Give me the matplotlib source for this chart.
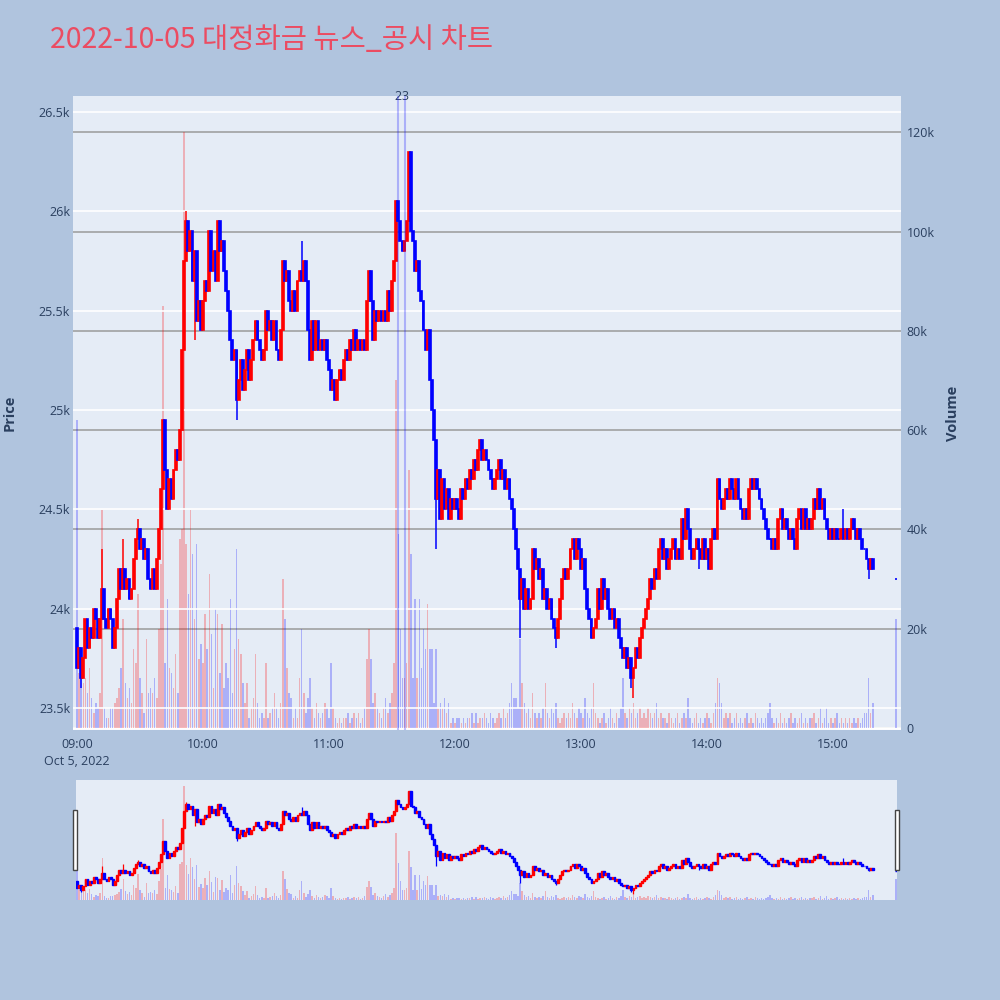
import numpy as np
import matplotlib.pyplot as plt
from matplotlib.patches import Rectangle
from matplotlib.transforms import blended_transform_factory

plt.rcParams['font.family'] = ['Open Sans', 'Noto Sans CJK KR', 'DejaVu Sans']

# --- data (1-minute candles, 09:00 ~ 15:19 + 15:30 closing auction) ---
minutes = list(range(380)) + [390]
first_open = 23900

close = [
    23700, 23800, 23650, 23750, 23950, 23800, 23900, 23850, 24000, 23950,
    23850, 23950, 24100, 23950, 23900, 24000, 23950, 23800, 23900, 24050,
    24200, 24100, 24200, 24100, 24150, 24050, 24100, 24250, 24350, 24400,
    24300, 24350, 24250, 24300, 24150, 24100, 24200, 24100, 24250, 24400,
    24600, 24950, 24700, 24500, 24650, 24550, 24700, 24800, 24750, 24900,
    25300, 25750, 25950, 25800, 25900, 25650, 25800, 25450, 25550, 25400,
    25550, 25650, 25600, 25900, 25700, 25800, 25650, 25950, 25800, 25850,
    25700, 25600, 25500, 25350, 25250, 25300, 25050, 25150, 25250, 25100,
    25200, 25300, 25150, 25250, 25350, 25450, 25350, 25300, 25250, 25300,
    25500, 25400, 25450, 25350, 25450, 25300, 25250, 25400, 25750, 25650,
    25700, 25550, 25500, 25600, 25500, 25650, 25700, 25650, 25750, 25650,
    25400, 25250, 25450, 25300, 25450, 25300, 25350, 25300, 25350, 25250,
    25200, 25100, 25150, 25050, 25150, 25200, 25150, 25250, 25300, 25250,
    25350, 25300, 25400, 25300, 25350, 25300, 25350, 25300, 25550, 25700,
    25550, 25350, 25500, 25450, 25500, 25450, 25500, 25450, 25600, 25500,
    25650, 25750, 26050, 25950, 25850, 25800, 25850, 25950, 26300, 25900,
    25850, 25700, 25750, 25600, 25550, 25400, 25300, 25400, 25150, 25000,
    24850, 24550, 24700, 24450, 24650, 24500, 24600, 24450, 24550, 24500,
    24550, 24500, 24450, 24600, 24550, 24650, 24600, 24700, 24650, 24750,
    24700, 24800, 24850, 24750, 24800, 24750, 24700, 24650, 24600, 24650,
    24700, 24750, 24650, 24700, 24600, 24650, 24550, 24500, 24400, 24300,
    24200, 24050, 24150, 24000, 24100, 24000, 24050, 24300, 24200, 24250,
    24150, 24200, 24050, 24100, 24000, 24050, 23950, 23900, 23850, 23950,
    24050, 24150, 24200, 24150, 24200, 24300, 24350, 24250, 24350, 24300,
    24200, 24250, 24100, 24000, 23950, 23850, 23900, 23950, 24100, 24000,
    24150, 24050, 24100, 24000, 23950, 24000, 23900, 23950, 23850, 23800,
    23750, 23800, 23700, 23750, 23650, 23700, 23800, 23750, 23850, 23900,
    23950, 24000, 24050, 24150, 24100, 24200, 24150, 24300, 24350, 24250,
    24300, 24200, 24250, 24300, 24350, 24250, 24300, 24250, 24450, 24350,
    24500, 24400, 24300, 24250, 24300, 24350, 24300, 24250, 24350, 24250,
    24300, 24200, 24350, 24400, 24350, 24650, 24550, 24500, 24550, 24600,
    24550, 24650, 24600, 24550, 24650, 24550, 24500, 24450, 24500, 24450,
    24600, 24650, 24600, 24650, 24600, 24550, 24500, 24450, 24400, 24350,
    24350, 24300, 24350, 24300, 24450, 24500, 24400, 24450, 24400, 24350,
    24400, 24350, 24300, 24450, 24500, 24400, 24500, 24400, 24450, 24400,
    24450, 24550, 24500, 24600, 24500, 24550, 24450, 24400, 24350, 24400,
    24350, 24400, 24350, 24350, 24400, 24350, 24400, 24350, 24400, 24450,
    24400, 24350, 24400, 24350, 24300, 24300, 24250, 24200, 24250, 24200,
    24150,
]

# wicks that go beyond the bodies (index -> price)
high_spikes = {12: 24300, 22: 24350, 29: 24450, 52: 26000, 107: 25850,
               158: 26300, 353: 24600, 365: 24500}
low_spikes = {2: 23600, 56: 25350, 76: 24950, 171: 24300, 211: 23850,
              228: 23800, 264: 23600, 265: 23550, 296: 24200, 377: 24150}

# volume in thousands of shares
volume_k = [
    62, 11, 10, 9, 10, 7, 12, 6, 3, 5,
    4, 7, 44, 4, 2, 2, 4, 4, 5, 6,
    8, 12, 22, 9, 6, 8, 5, 16, 13, 27,
    10, 7, 3, 18, 7, 8, 7, 10, 6, 20,
    33, 85, 13, 26, 12, 11, 8, 15, 7, 38,
    40, 120, 37, 27, 44, 35, 22, 37, 14, 17,
    13, 23, 16, 31, 19, 8, 24, 23, 11, 21,
    8, 13, 10, 26, 7, 16, 36, 18, 15, 9,
    5, 9, 2, 4, 6, 15, 5, 2, 3, 2,
    13, 2, 3, 4, 7, 4, 2, 5, 30, 22,
    12, 7, 6, 2, 4, 2, 10, 20, 7, 3,
    6, 10, 4, 2, 5, 3, 2, 3, 5, 4,
    2, 13, 4, 2, 1, 2, 1, 2, 2, 3,
    1, 2, 3, 2, 3, 1, 2, 4, 14, 20,
    14, 5, 7, 4, 3, 2, 4, 6, 3, 5,
    7, 13, 70, 39, 20, 10, 10, 13, 52, 35,
    10, 26, 10, 26, 12, 20, 16, 25, 16, 16,
    5, 16, 4, 5, 4, 6, 3, 5, 1, 2,
    1, 2, 2, 1, 2, 1, 2, 2, 3, 1,
    3, 1, 2, 2, 3, 2, 1, 3, 2, 1,
    2, 3, 2, 4, 2, 3, 5, 9, 6, 6,
    4, 18, 9, 5, 3, 4, 2, 7, 3, 2,
    3, 2, 4, 9, 3, 2, 4, 3, 5, 2,
    1, 2, 3, 2, 3, 2, 5, 3, 2, 4,
    3, 2, 6, 3, 2, 4, 9, 3, 2, 1,
    2, 3, 1, 2, 4, 2, 1, 3, 2, 4,
    10, 3, 2, 4, 3, 5, 2, 3, 4, 2,
    3, 2, 4, 3, 2, 3, 5, 2, 3, 2,
    2, 1, 3, 2, 1, 2, 3, 1, 2, 3,
    2, 6, 2, 1, 2, 3, 1, 2, 1, 2,
    3, 2, 1, 3, 5, 10, 9, 5, 2, 3,
    2, 3, 1, 2, 3, 1, 2, 1, 2, 3,
    1, 2, 1, 3, 2, 1, 2, 1, 2, 3,
    5, 2, 1, 2, 1, 3, 1, 2, 1, 2,
    3, 1, 2, 1, 2, 3, 1, 2, 1, 2,
    2, 3, 1, 2, 4, 1, 2, 4, 1, 2,
    1, 2, 3, 1, 2, 1, 2, 1, 2, 1,
    2, 1, 2, 1, 2, 3, 3, 10, 3, 5,
    22,
]

# news / disclosure markers (minute index, label)
news_minutes = [153, 156]
news_labels = ["2", "3"]

tick_minutes = [0, 60, 120, 180, 240, 300, 360]
tick_labels = ["09:00\nOct 5, 2022", "10:00", "11:00", "12:00", "13:00", "14:00", "15:00"]
price_ticks = [23500, 24000, 24500, 25000, 25500, 26000, 26500]
volume_ticks = [0, 20, 40, 60, 80, 100, 120]

title = "2022-10-05 대정화금 뉴스_공시 차트"

# --- derived OHLC ---
x = np.array(minutes)
c = np.array(close, dtype=float)
o = np.concatenate([[first_open], c[:-1]])
o[-1] = c[-1]  # closing auction print
hi = np.maximum(o, c)
lo = np.minimum(o, c)
for k, v in high_spikes.items():
    hi[k] = max(hi[k], v)
for k, v in low_spikes.items():
    lo[k] = min(lo[k], v)
up = c > o
cols = np.where(up, "#FF0000", "#0000FF")
vol = np.array(volume_k, dtype=float)

text_col = "#2a3f5f"
bg = "#B0C4DE"
plot_bg = "#E5ECF6"

P_LIM = (23389, 26580)
V_LIM = (-0.4, 127.3)


def draw_candles(ax, body_w, wick_lw, edge_lw):
    ax.vlines(x, lo, hi, colors=cols, lw=wick_lw, zorder=3)
    ax.bar(x, c - o, bottom=o, width=body_w, color=cols, edgecolor=cols,
           linewidth=edge_lw, zorder=4)


def draw_volume(ax, width):
    ax.bar(x, vol, width=width, color=cols, alpha=0.25, linewidth=0, zorder=2)


fig = plt.figure(figsize=(10, 10), dpi=100, facecolor=bg)

# --- main chart ---
ax_v = fig.add_axes([0.073, 0.270, 0.828, 0.634], facecolor=plot_bg)
ax_p = ax_v.twinx()
ax_p.yaxis.tick_left()
ax_v.yaxis.tick_right()

draw_volume(ax_v, 0.7)
ax_v.set_ylim(*V_LIM)
ax_v.set_yticks(volume_ticks)
ax_v.set_yticklabels(["0" if v == 0 else f"{v}k" for v in volume_ticks])
ax_v.grid(axis="y", color="#9A9A9A", lw=1.1, zorder=0)
ax_v.set_axisbelow(True)
ax_v.axhline(0, color="white", lw=2, zorder=1)

ax_p.grid(axis="y", color="white", lw=1.2, zorder=0)
draw_candles(ax_p, 0.85, 1.1, 1.2)
ax_p.set_ylim(*P_LIM)
ax_p.set_yticks(price_ticks)
ax_p.set_yticklabels([f"{p / 1000:g}k" for p in price_ticks])

ax_v.set_xlim(-1.9, 392.4)
ax_v.set_xticks(tick_minutes)
ax_v.set_xticklabels(tick_labels, linespacing=1.35)

for a in (ax_v, ax_p):
    for s in a.spines.values():
        s.set_visible(False)
    a.tick_params(length=0, labelsize=9, colors=text_col)
ax_v.tick_params(axis="x", pad=6)
ax_v.tick_params(axis="y", pad=4)
ax_p.tick_params(axis="y", pad=2)

trans = blended_transform_factory(ax_p.transData, ax_p.transAxes)
for m, lab in zip(news_minutes, news_labels):
    ax_p.axvline(m, color="blue", alpha=0.25, lw=1.5, zorder=5)
    ax_p.text(m, 1.0, lab, transform=trans, ha="center", va="center",
              fontsize=9, color=text_col)

fig.text(0.010, 0.587, "Price", rotation=90, ha="center", va="center",
         fontsize=10.5, fontweight="bold", color=text_col)
fig.text(0.953, 0.587, "Volume", rotation=90, ha="center", va="center",
         fontsize=10.5, fontweight="bold", color=text_col)
fig.text(0.050, 0.960, title, ha="left", va="center", fontsize=20.5,
         color="#EB4C62", family=["Noto Sans CJK KR", "DejaVu Sans"])

# --- range slider ---
ax_s = fig.add_axes([0.076, 0.100, 0.821, 0.120], facecolor=plot_bg)
ax_s2 = ax_s.twinx()
draw_volume(ax_s, 0.7)
draw_candles(ax_s2, 0.85, 0.9, 1.0)
ax_s.set_ylim(0, 126.3)
ax_s2.set_ylim(*P_LIM)
ax_s.set_xlim(-0.5, 390.5)
for a in (ax_s, ax_s2):
    a.set_xticks([])
    a.set_yticks([])
    for s in a.spines.values():
        s.set_visible(False)

for hx in (0.073, 0.895):
    fig.add_artist(Rectangle((hx, 0.130), 0.004, 0.060, transform=fig.transFigure,
                             facecolor="white", edgecolor="#444444", lw=1))

fig.savefig("out.png", dpi=100, facecolor=bg)
